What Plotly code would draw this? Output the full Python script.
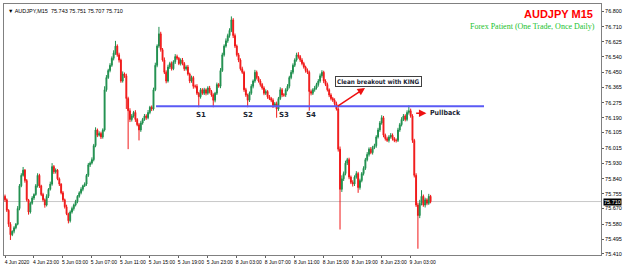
import plotly.graph_objects as go

# ---- data (AUDJPY M15) ----
closes = [
75.72,75.66,75.58,75.52,75.54,75.56,75.58,75.67,75.80,75.86,
75.89,75.83,75.72,75.65,75.70,75.73,75.75,75.80,75.86,75.80,
75.75,75.72,75.69,75.74,75.78,75.81,75.91,75.88,75.89,75.84,
75.81,75.76,75.72,75.68,75.64,75.60,75.65,75.67,75.69,75.71,
75.74,75.76,75.78,75.80,75.81,75.86,75.92,75.93,75.95,76.03,
76.12,76.09,76.10,76.08,76.12,76.35,76.42,76.46,76.49,76.53,
76.56,76.60,76.55,76.52,76.40,76.44,76.43,76.30,76.23,76.18,
76.20,76.22,76.18,76.15,76.12,76.16,76.18,76.20,76.19,76.22,
76.25,76.24,76.35,76.49,76.60,76.67,76.58,76.52,76.45,76.40,
76.48,76.50,76.47,76.51,76.54,76.53,76.50,76.52,76.50,76.47,
76.48,76.44,76.40,76.42,76.37,76.37,76.33,76.31,76.35,76.33,
76.35,76.33,76.36,76.34,76.32,76.29,76.33,76.38,76.37,76.46,
76.55,76.60,76.63,76.66,76.69,76.75,76.66,76.60,76.55,76.52,
76.47,76.45,76.35,76.32,76.29,76.33,76.37,76.40,76.45,76.42,
76.40,76.38,76.36,76.33,76.34,76.31,76.30,76.29,76.26,76.27,
76.24,76.30,76.35,76.32,76.32,76.35,76.37,76.42,76.45,76.49,
76.52,76.55,76.54,76.52,76.50,76.48,76.46,76.45,76.34,76.33,
76.35,76.36,76.38,76.40,76.43,76.45,76.40,76.38,76.35,76.32,
76.30,76.29,76.27,76.24,76.01,75.78,75.84,75.87,75.93,75.95,
75.85,75.82,75.81,75.85,75.87,75.79,75.83,75.87,75.90,75.95,
75.98,76.01,75.99,76.02,76.03,76.08,76.12,76.16,76.19,76.09,
76.07,76.06,76.08,76.09,76.07,76.06,76.06,76.12,76.15,76.18,
76.20,76.18,76.22,76.23,76.20,76.06,75.86,75.69,75.63,75.70,
75.74,75.69,75.72,75.70,75.74,75.71]
first_open = 75.74
# upper / lower wick lengths in thousandths of a yen
up_wick = [
10,8,6,12,5,9,7,14,10,12, 18,6,9,5,8,11,7,10,12,9, 6,10,8,12,7,14,20,9,10,6,
8,5,10,7,12,6,9,11,8,10, 7,9,12,6,10,8,11,9,13,10, 15,8,12,10,9,20,14,10,12,11,
16,30,10,12,8,15,9,12,10,14, 11,9,13,8,10,12,9,11,10,14, 8,10,12,15,10,40,12,9,15,11,
13,10,12,9,14,11,8,10,12,9, 10,12,8,11,9,10,12,8,10,9, 11,8,10,12,9,10,8,11,9,14,
12,10,14,11,12,20,10,12,9,11, 10,12,9,11,8,10,12,9,14,10, 8,11,9,10,12,8,10,9,11,10,
12,9,14,10,11,9,12,10,13,11, 10,12,15,9,11,10,8,12,10,11, 9,12,10,11,13,12,9,10,11,8,
10,9,11,12,10,15,20,12,14,10, 11,9,12,10,14,10,11,9,12,10, 13,10,12,9,11,10,12,11,14,10,
9,11,10,12,10,9,11,12,10,13, 11,10,12,30,12,10,9,12,14,20, 35,10,12,9,14,8]
down_wick = [
12,10,15,30,8,12,9,6,10,8, 7,12,10,15,9,8,11,7,10,12, 9,11,15,8,10,7,9,12,10,8,
11,9,12,10,8,15,10,9,12,8, 10,8,9,11,7,10,9,12,8,10, 9,11,8,12,10,9,11,8,10,9,
12,10,11,14,10,9,12,60,220,15, 12,10,14,9,60,11,10,8,12,9, 10,12,9,8,11,10,12,9,10,13,
9,11,10,8,12,10,9,11,10,12, 10,9,12,10,14,12,10,60,11,9, 10,12,9,11,10,40,12,10,9,11,
8,10,9,11,12,10,14,11,10,12, 10,9,12,11,40,10,9,12,10,11, 9,12,10,11,10,12,9,11,14,10,
50,11,9,12,10,11,9,12,10,11, 10,9,12,11,10,9,12,10,110,12, 10,11,9,12,10,11,12,9,10,12,
11,10,12,9,14,230,15,12,10,11, 12,10,14,11,9,30,12,10,11,9, 10,12,9,11,10,12,9,11,10,12,
11,9,12,10,11,10,12,9,11,10, 9,11,10,12,10,14,12,11,190,15, 12,10,14,11,9,10]

x_tick_labels = ["4 Jun 2020","4 Jun 23:00","5 Jun 03:00","5 Jun 07:00","5 Jun 11:00",
                 "5 Jun 15:00","5 Jun 19:00","5 Jun 23:00","8 Jun 03:00","8 Jun 07:00",
                 "8 Jun 11:00","8 Jun 15:00","8 Jun 19:00","8 Jun 23:00","9 Jun 03:00"]
bars_per_label = 16
y_tick_values = [75.410,75.495,75.580,75.670,75.755,75.840,75.930,76.015,76.105,
                 76.190,76.275,76.365,76.450,76.540,76.625,76.710,76.800]
breakout_level = 76.256
last_price = 75.710
support_labels = ["S1","S2","S3","S4"]
support_idx = [108, 134, 154, 169]

# ---- build ----
n = len(closes)
idx = list(range(n))
opens = [first_open] + closes[:-1]
highs = [max(o, c) + w / 1000 for o, c, w in zip(opens, closes, up_wick)]
lows = [min(o, c) - w / 1000 for o, c, w in zip(opens, closes, down_wick)]

fig = go.Figure()
fig.add_trace(go.Candlestick(
    x=idx, open=opens, high=highs, low=lows, close=closes,
    increasing=dict(line=dict(color="#1f8f4e", width=1), fillcolor="#1f8f4e"),
    decreasing=dict(line=dict(color="#f01818", width=1), fillcolor="#f01818"),
    whiskerwidth=0, showlegend=False, hoverinfo="skip"))

# current price line
fig.add_shape(type="line", xref="paper", x0=0, x1=1, y0=last_price, y1=last_price,
              line=dict(color="#c8c8c8", width=1), layer="below")
# breakout level
fig.add_shape(type="line", x0=83.4, x1=264.5, y0=breakout_level, y1=breakout_level,
              line=dict(color="#5a5af5", width=2))

ann = []
ann.append(dict(text="AUDJPY M15", xref="paper", yref="paper", x=0.99, y=0.962,
                xanchor="right", yanchor="middle", showarrow=False,
                font=dict(family="Liberation Sans", size=11, color="#ff0000", weight="bold")))
ann.append(dict(text="Forex Patient (One Trade, Once Daily)", xref="paper", yref="paper",
                x=0.994, y=0.912, xanchor="right", yanchor="middle", showarrow=False,
                font=dict(family="Liberation Serif", size=8, color="#22c22e")))
ann.append(dict(text="▼ AUDJPY,M15  75.743 75.751 75.707 75.710", xref="paper", yref="paper",
                x=0.003, y=0.992, xanchor="left", yanchor="top", showarrow=False,
                font=dict(family="Liberation Sans", size=5.5, color="#000000")))
for lab, i in zip(support_labels, support_idx):
    ann.append(dict(text=lab, x=i, y=76.205, showarrow=False, xanchor="center",
                    font=dict(family="DejaVu Sans", size=7, color="#1a2433", weight="bold")))
ann.append(dict(text="Clean breakout with KING", x=206.5, y=76.397, showarrow=False,
                xanchor="center", yanchor="middle", bgcolor="#ffffff", bordercolor="#404040",
                borderwidth=1, borderpad=1,
                font=dict(family="DejaVu Sans Condensed", size=6.3, color="#1a2433", weight="bold")))
ann.append(dict(text="", x=198.8, y=76.36, ax=182.9, ay=76.25, axref="x", ayref="y",
                showarrow=True, arrowhead=2, arrowsize=1, arrowwidth=1.5, arrowcolor="#ee1111"))
ann.append(dict(text="", x=232.7, y=76.216, ax=226.2, ay=76.216, axref="x", ayref="y",
                showarrow=True, arrowhead=2, arrowsize=1, arrowwidth=1.5, arrowcolor="#ee1111"))
ann.append(dict(text="Pullback", x=233.6, y=76.216, showarrow=False, xanchor="left",
                font=dict(family="DejaVu Sans Condensed", size=7, color="#1a2433", weight="bold")))
ann.append(dict(text="75.710", xref="paper", x=1.003, y=last_price, xanchor="left",
                yanchor="middle", showarrow=False, bgcolor="#000000", borderpad=0,
                font=dict(family="Liberation Sans", size=5.5, color="#ffffff")))

fig.update_layout(
    width=625, height=268, margin=dict(l=3, r=20, t=3, b=12),
    paper_bgcolor="#ffffff", plot_bgcolor="#ffffff",
    annotations=ann,
    xaxis=dict(range=[-0.55, 329.1], rangeslider=dict(visible=False),
               tickmode="array", tickvals=[k * bars_per_label for k in range(len(x_tick_labels))],
               ticktext=x_tick_labels, ticks="outside", ticklen=2, tickcolor="#606060",
               ticklabelshift=12, ticklabelstandoff=0,
               tickfont=dict(family="Liberation Sans", size=5, color="#000"),
               showgrid=False, zeroline=False, showline=True, mirror=True,
               linecolor="#808080", linewidth=1),
    yaxis=dict(range=[75.404, 76.841], side="right", tickmode="array",
               tickvals=y_tick_values, ticktext=[f"{v:.3f}" for v in y_tick_values],
               ticks="outside", ticklen=2, tickcolor="#606060",
               tickfont=dict(family="Liberation Sans", size=5.5, color="#000"),
               showgrid=False, zeroline=False, showline=True, mirror=True,
               linecolor="#808080", linewidth=1),
)
fig.write_html("out.html")
